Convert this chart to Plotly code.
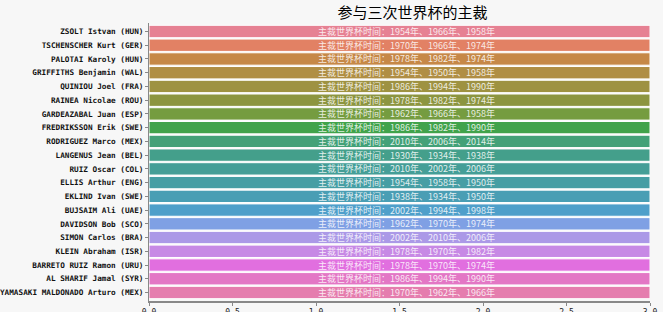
import math
import colorsys
import plotly.graph_objects as go

referees = [
    "ZSOLT Istvan (HUN)", "TSCHENSCHER Kurt (GER)", "PALOTAI Karoly (HUN)",
    "GRIFFITHS Benjamin (WAL)", "QUINIOU Joel (FRA)", "RAINEA Nicolae (ROU)",
    "GARDEAZABAL Juan (ESP)", "FREDRIKSSON Erik (SWE)", "RODRIGUEZ Marco (MEX)",
    "LANGENUS Jean (BEL)", "RUIZ Oscar (COL)", "ELLIS Arthur (ENG)",
    "EKLIND Ivan (SWE)", "BUJSAIM Ali (UAE)", "DAVIDSON Bob (SCO)",
    "SIMON Carlos (BRA)", "KLEIN Abraham (ISR)", "BARRETO RUIZ Ramon (URU)",
    "AL SHARIF Jamal (SYR)", "YAMASAKI MALDONADO Arturo (MEX)",
]
counts = [3] * 20
years = [
    "1954年、1966年、1958年", "1970年、1966年、1974年", "1978年、1982年、1974年",
    "1954年、1950年、1958年", "1986年、1994年、1990年", "1978年、1982年、1974年",
    "1962年、1966年、1958年", "1986年、1982年、1990年", "2010年、2006年、2014年",
    "1930年、1934年、1938年", "2010年、2002年、2006年", "1954年、1958年、1950年",
    "1938年、1934年、1950年", "2002年、1994年、1998年", "1962年、1970年、1974年",
    "2002年、2010年、2006年", "1978年、1970年、1982年", "1978年、1970年、1974年",
    "1986年、1994年、1990年", "1970年、1962年、1966年",
]
title = "参与三次世界杯的主裁"
x_ticks = [0.0, 0.5, 1.0, 1.5, 2.0, 2.5, 3.0]

# ---- husl palette (seaborn style) ----
M = [[3.240454162114103, -1.537138512797715, -0.49853140955601],
     [-0.96926603050518, 1.876010845446694, 0.041556017530349],
     [0.055643430959114, -0.20402591351675, 1.057225188223179]]
refU, refV = 0.19783983, 0.46833630
kappa = 24389 / 27
eps = 216 / 24389


def max_chroma(L, H):
    hrad = math.radians(H)
    sinH, cosH = math.sin(hrad), math.cos(hrad)
    sub1 = (L + 16) ** 3 / 1560896.0
    sub2 = sub1 if sub1 > eps else L / kappa
    res = float("inf")
    for m1, m2, m3 in M:
        top = (0.99915 * m1 + 1.05122 * m2 + 1.14460 * m3) * sub2
        rb = 0.86330 * m3 - 0.17266 * m2
        lb = 0.12949 * m3 - 0.38848 * m1
        bottom = (rb * sinH + lb * cosH) * sub2
        for t in (0.0, 1.0):
            C = L * (top - 1.05122 * t) / (bottom + 0.17266 * sinH * t)
            if 0 < C < res:
                res = C
    return res


def husl_to_rgb(H, S, L):
    C = max_chroma(L, H) / 100.0 * S
    hrad = math.radians(H)
    U, V = C * math.cos(hrad), C * math.sin(hrad)
    t = (L + 16) / 116.0
    Y = t ** 3 if t ** 3 > eps else (116 * t - 16) / kappa
    vu = U / (13 * L) + refU
    vv = V / (13 * L) + refV
    X = -(9 * Y * vu) / ((vu - 4) * vv - vu * vv)
    Z = (9 * Y - 15 * vv * Y - vv * X) / (3 * vv)
    out = []
    for row in M:
        c = row[0] * X + row[1] * Y + row[2] * Z
        c = 12.92 * c if c <= 0.0031308 else 1.055 * c ** (1 / 2.4) - 0.055
        out.append(min(max(c, 0), 1))
    return out


def palette(n):
    cols = []
    for i in range(n):
        h = ((i / n + 0.01) % 1) * 359
        r, g, b = husl_to_rgb(h, 0.9 * 99, 0.65 * 99)
        hh, ll, ss = colorsys.rgb_to_hls(r, g, b)
        r, g, b = colorsys.hls_to_rgb(hh, ll, ss * 0.75)
        cols.append("rgb(%d,%d,%d)" % (round(r * 255), round(g * 255), round(b * 255)))
    return cols


colors = palette(len(referees))

fig = go.Figure(go.Bar(
    x=counts, y=referees, orientation="h",
    marker=dict(color=colors, line=dict(color="white", width=1)),
    width=0.9, hoverinfo="skip",
))

for name, yr in zip(referees, years):
    fig.add_annotation(
        x=1.0, y=name, text="主裁世界杯时间：" + yr, showarrow=False,
        xanchor="left", yanchor="middle", xref="x", yref="y",
        font=dict(family="Noto Sans CJK SC", size=9, color="rgba(255,255,255,0.85)"),
    )

fig.update_layout(
    width=663, height=312,
    margin=dict(l=149, r=13, t=23, b=11),
    paper_bgcolor="#f7f7f7", plot_bgcolor="#f7f7f7",
    showlegend=False,
    title=dict(text=title, x=0.526, xref="paper", xanchor="center", y=0.958, yanchor="middle",
               font=dict(family="Noto Sans CJK SC", size=15, color="black")),
    bargap=0.1,
)
fig.update_xaxes(
    range=[0, 3.0], tickvals=x_ticks, ticktext=["%.1f" % v for v in x_ticks],
    showgrid=False, zeroline=False, showline=True, linecolor="#888", linewidth=1.5,
    ticks="outside", ticklen=3, tickcolor="#888", automargin=False,
    tickfont=dict(family="DejaVu Sans Mono", size=8, color="#222"),
)
fig.update_yaxes(
    autorange="reversed", showgrid=False, zeroline=False, showline=True,
    linecolor="#888", linewidth=1, ticks="outside", ticklen=3, tickcolor="#888",
    automargin=False,
    tickfont=dict(family="DejaVu Sans Mono", size=7.7, color="#111", weight="bold"),
)

fig.write_html("out.html")
